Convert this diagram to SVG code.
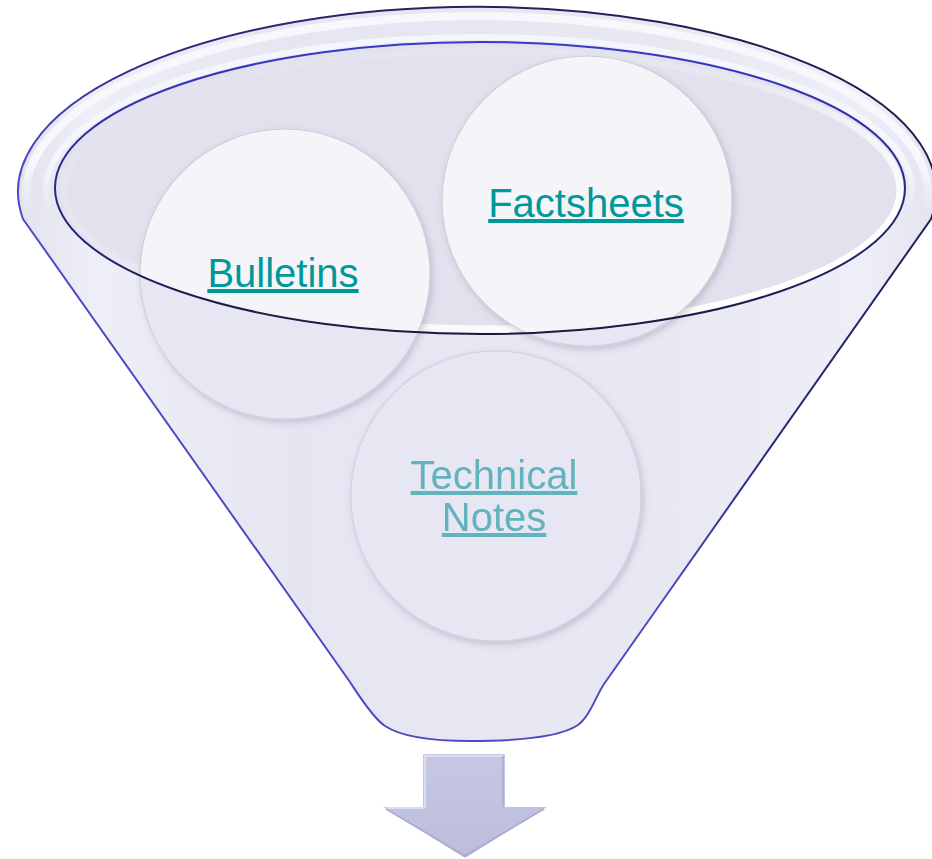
<svg xmlns="http://www.w3.org/2000/svg" width="932" height="859" viewBox="0 0 932 859">
<style>
.lbl{font-family:"Liberation Sans",Arial,sans-serif;font-size:40px;text-anchor:middle;text-decoration:underline}
.circ{fill:#f4f4f9;stroke:#cfcfda;stroke-width:1.2}
</style>
<defs>
<linearGradient id="body" x1="0" y1="0" x2="1" y2="0">
<stop offset="0" stop-color="#e2e2ef"/>
<stop offset="0.08" stop-color="#eeeef7"/>
<stop offset="0.3" stop-color="#e6e6f2"/>
<stop offset="0.7" stop-color="#e8e8f3"/>
<stop offset="0.92" stop-color="#eeeef7"/>
<stop offset="1" stop-color="#e4e4f0"/>
</linearGradient>
<linearGradient id="outerStroke" x1="0" y1="1" x2="0.85" y2="0">
<stop offset="0" stop-color="#4a48c0"/>
<stop offset="0.45" stop-color="#4e4cc4"/>
<stop offset="0.62" stop-color="#2c2a80"/>
<stop offset="1" stop-color="#1c1c48"/>
</linearGradient>
<linearGradient id="innerStroke" x1="0" y1="0" x2="0" y2="1">
<stop offset="0" stop-color="#3a38c8"/>
<stop offset="0.45" stop-color="#2a2890"/>
<stop offset="1" stop-color="#1a1a3e"/>
</linearGradient>
<linearGradient id="hl" x1="0" y1="0" x2="1" y2="1">
<stop offset="0" stop-color="#fff" stop-opacity="0"/>
<stop offset="0.45" stop-color="#fff" stop-opacity="0.2"/>
<stop offset="0.8" stop-color="#fff" stop-opacity="1"/>
<stop offset="1" stop-color="#fff" stop-opacity="1"/>
</linearGradient>
<linearGradient id="rimFade" x1="0" y1="0" x2="0" y2="1">
<stop offset="0" stop-color="#fff" stop-opacity="1"/>
<stop offset="0.75" stop-color="#fff" stop-opacity="1"/>
<stop offset="1" stop-color="#fff" stop-opacity="0"/>
</linearGradient>
<mask id="rimMask" maskUnits="userSpaceOnUse" x="0" y="0" width="932" height="859">
<rect x="0" y="0" width="932" height="215" fill="url(#rimFade)"/>
</mask>
<linearGradient id="arrowG" x1="0" y1="0" x2="0" y2="1">
<stop offset="0" stop-color="#c6c7e3"/>
<stop offset="1" stop-color="#bcbddc"/>
</linearGradient>
<clipPath id="circClip">
<circle cx="285" cy="274" r="146"/>
<circle cx="587" cy="201" r="146"/>
<circle cx="496" cy="496" r="146"/>
</clipPath>
<filter id="sh" x="-10%" y="-10%" width="130%" height="130%">
<feDropShadow dx="2" dy="3" stdDeviation="3" flood-color="#505070" flood-opacity="0.25"/>
</filter>
</defs>

<g id="funnel">
<path d="M 23,219 A 459 185 0 1 1 931,219 L 604,684 C 596,696 590,716 578,725 C 560,737 520,741 470,741 C 430,741 400,736 385,726 C 372,717 358,694 350,682 Z" fill="url(#body)" stroke="url(#outerStroke)" stroke-width="2"/>
<g mask="url(#rimMask)" fill="none">
<ellipse cx="477" cy="194" rx="451" ry="178" stroke="#f7f7fc" stroke-width="8"/>
<ellipse cx="479" cy="190" rx="433" ry="153" stroke="#f5f5fc" stroke-width="6"/>
</g>
<ellipse cx="480" cy="188" rx="425" ry="146" fill="#e2e1ee"/>
<ellipse cx="482" cy="190" rx="418" ry="139" fill="none" stroke="url(#hl)" stroke-width="7"/>
</g>

<g id="node-bulletins" filter="url(#sh)">
<circle class="circ" cx="285" cy="274" r="145"/>
</g>
<g id="node-factsheets" filter="url(#sh)">
<circle class="circ" cx="587" cy="201" r="145"/>
</g>
<g id="node-technical-notes" filter="url(#sh)">
<circle class="circ" cx="496" cy="496" r="145"/>
<text class="lbl" x="494" y="489" fill="#009999">Technical</text>
<text class="lbl" x="494" y="531" fill="#009999">Notes</text>
</g>

<g id="funnel-front">
<path clip-path="url(#circClip)" fill-rule="evenodd" fill="#d6d5ea" fill-opacity="0.45" d="M 0,0 H 932 V 859 H 0 Z M 55,188 A 425 146 0 1 0 905,188 A 425 146 0 1 0 55,188 Z"/>
<ellipse cx="480" cy="188" rx="425" ry="146" fill="none" stroke="url(#innerStroke)" stroke-width="2"/>
</g>

<g id="labels">
<text class="lbl" x="283" y="287" fill="#009999">Bulletins</text>
<text class="lbl" x="586" y="217" fill="#009999">Factsheets</text>
</g>

<g id="connectors">
<path d="M 423,754 L 505,754 L 505,807 L 547,807 L 465,858 L 383,807 L 423,807 Z" fill="url(#arrowG)"/>
<path d="M 425,807 L 425,756 L 503,756" fill="none" stroke="#dcdcf0" stroke-width="2"/>
<path d="M 386,808 L 425,808" fill="none" stroke="#dcdcf0" stroke-width="2"/>
<path d="M 503,756 L 503,807 M 544,809 L 465,856 L 386,809" fill="none" stroke="#a9aacd" stroke-width="1.5"/>
</g>
</svg>
